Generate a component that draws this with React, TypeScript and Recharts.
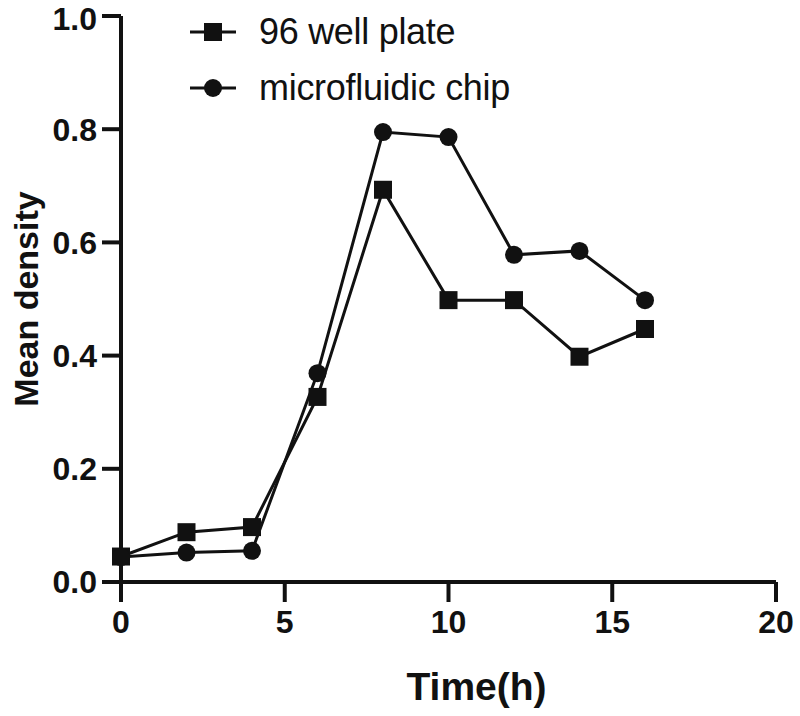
import React from 'react';
import { LineChart, Line, XAxis, YAxis, Legend, Label } from 'recharts';

const times = [0, 2, 4, 6, 8, 10, 12, 14, 16];
const wellPlate = [0.045, 0.088, 0.097, 0.327, 0.693, 0.498, 0.498, 0.398, 0.447];
const chip = [0.044, 0.052, 0.055, 0.369, 0.795, 0.786, 0.578, 0.585, 0.498];
const xTicks = [0, 5, 10, 15, 20];
const yTicks = [0, 0.2, 0.4, 0.6, 0.8, 1.0];
const seriesNames = ['96 well plate', 'microfluidic chip'];

const data = times.map((t, i) => ({ time: t, well: wellPlate[i], chip: chip[i] }));

const INK = '#111';
const FONT = '"Liberation Sans", Arial, sans-serif';

const SquareDot = (props: any) => {
  const { cx, cy, index } = props;
  if (cx == null || cy == null) return null;
  return <rect key={`sq-${index}`} x={cx - 9} y={cy - 9} width={18} height={18} fill={INK} />;
};

const CircleDot = (props: any) => {
  const { cx, cy, index } = props;
  if (cx == null || cy == null) return null;
  return <circle key={`ci-${index}`} cx={cx} cy={cy} r={9} fill={INK} />;
};

const renderLegend = () => (
  <div style={{ fontFamily: FONT, color: INK }}>
    {seriesNames.map((name, i) => (
      <div key={name} style={{ display: 'flex', alignItems: 'center', height: 56 }}>
        <svg width={50} height={24} style={{ marginRight: 22 }}>
          <line x1={3} y1={12} x2={49} y2={12} stroke={INK} strokeWidth={3} />
          {i === 0 ? <rect x={17} y={3} width={18} height={18} fill={INK} /> : <circle cx={26} cy={12} r={9} fill={INK} />}
        </svg>
        <span style={{ fontSize: 36, lineHeight: '56px', letterSpacing: -0.3 }}>{name}</span>
      </div>
    ))}
  </div>
);

const tickStyle = { fontFamily: FONT, fontSize: 32, fontWeight: 700, fill: INK, stroke: 'none' };

export default function App() {
  return (
    <div style={{ position: 'absolute', left: 0, top: 0, width: 800, height: 716, background: '#fff' }}>
      <LineChart width={800} height={716} data={data} margin={{ top: 16, right: 24, bottom: 74, left: 0 }}>
        <XAxis
          dataKey="time"
          type="number"
          domain={[0, 20]}
          ticks={xTicks}
          height={60}
          stroke={INK}
          strokeWidth={4}
          axisLine={{ stroke: INK, strokeWidth: 4 }}
          tickLine={{ stroke: INK, strokeWidth: 4 }}
          tickSize={20}
          tick={tickStyle}
          tickMargin={8}
        >
          <Label
            value="Time(h)"
            position="insideBottom"
            offset={-58}
            dx={28}
            style={{ fontFamily: FONT, fontSize: 39, fontWeight: 700, fill: INK, stroke: 'none' }}
          />
        </XAxis>
        <YAxis
          type="number"
          domain={[0, 1]}
          ticks={yTicks}
          width={121}
          stroke={INK}
          strokeWidth={4}
          axisLine={{ stroke: INK, strokeWidth: 4 }}
          tickLine={{ stroke: INK, strokeWidth: 4 }}
          tickSize={19}
          tickMargin={5}
          tick={tickStyle}
          tickFormatter={(v: number) => v.toFixed(1)}
        >
          <Label
            value="Mean density"
            angle={-90}
            position="insideLeft"
            offset={26}
            style={{ fontFamily: FONT, fontSize: 34, fontWeight: 700, fill: INK, stroke: 'none', textAnchor: 'middle' }}
          />
        </YAxis>
        <Legend
          layout="vertical"
          align="center"
          verticalAlign="middle"
          content={renderLegend}
          wrapperStyle={{ top: 4, left: 187, width: 400 }}
        />
        <Line
          name={seriesNames[0]}
          dataKey="well"
          stroke={INK}
          strokeWidth={3}
          dot={<SquareDot />}
          activeDot={false}
          isAnimationActive={false}
        />
        <Line
          name={seriesNames[1]}
          dataKey="chip"
          stroke={INK}
          strokeWidth={3}
          dot={<CircleDot />}
          activeDot={false}
          isAnimationActive={false}
        />
      </LineChart>
    </div>
  );
}
